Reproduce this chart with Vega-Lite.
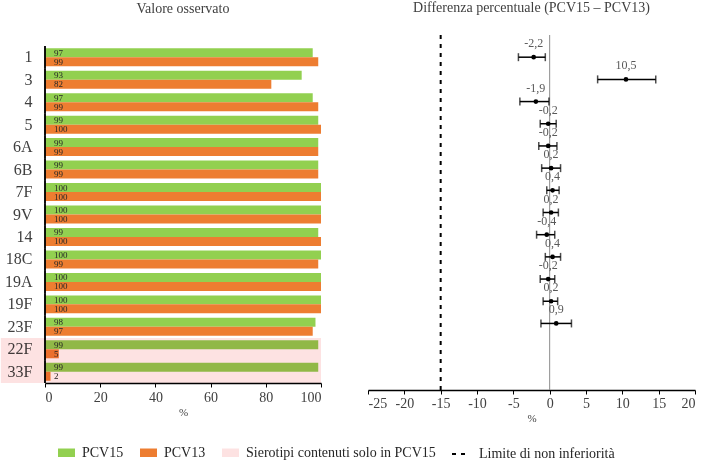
{
  "$schema": "https://vega.github.io/schema/vega-lite/v6.json",
  "background": "white",
  "padding": {"left": 0, "top": 1, "right": 0, "bottom": 0},
  "config": {
    "font": "Liberation Serif",
    "view": {"stroke": null},
    "concat": {"spacing": 45},
    "legend": {"labelFont": "Liberation Serif", "labelLimit": 400}
  },
  "datasets": {
    "obs": [
      {"sero": "1", "series": "PCV15", "val": 97}, {"sero": "1", "series": "PCV13", "val": 99},
      {"sero": "3", "series": "PCV15", "val": 93}, {"sero": "3", "series": "PCV13", "val": 82},
      {"sero": "4", "series": "PCV15", "val": 97}, {"sero": "4", "series": "PCV13", "val": 99},
      {"sero": "5", "series": "PCV15", "val": 99}, {"sero": "5", "series": "PCV13", "val": 100},
      {"sero": "6A", "series": "PCV15", "val": 99}, {"sero": "6A", "series": "PCV13", "val": 99},
      {"sero": "6B", "series": "PCV15", "val": 99}, {"sero": "6B", "series": "PCV13", "val": 99},
      {"sero": "7F", "series": "PCV15", "val": 100}, {"sero": "7F", "series": "PCV13", "val": 100},
      {"sero": "9V", "series": "PCV15", "val": 100}, {"sero": "9V", "series": "PCV13", "val": 100},
      {"sero": "14", "series": "PCV15", "val": 99}, {"sero": "14", "series": "PCV13", "val": 100},
      {"sero": "18C", "series": "PCV15", "val": 100}, {"sero": "18C", "series": "PCV13", "val": 99},
      {"sero": "19A", "series": "PCV15", "val": 100}, {"sero": "19A", "series": "PCV13", "val": 100},
      {"sero": "19F", "series": "PCV15", "val": 100}, {"sero": "19F", "series": "PCV13", "val": 100},
      {"sero": "23F", "series": "PCV15", "val": 98}, {"sero": "23F", "series": "PCV13", "val": 97},
      {"sero": "22F", "series": "PCV15", "val": 99}, {"sero": "22F", "series": "PCV13", "val": 5},
      {"sero": "33F", "series": "PCV15", "val": 99}, {"sero": "33F", "series": "PCV13", "val": 2}
    ],
    "only15": [
      {"sero": "22F", "series": "Sierotipi contenuti solo in PCV15"},
      {"sero": "33F", "series": "Sierotipi contenuti solo in PCV15"}
    ],
    "diff": [
      {"sero": "1", "d": -2.2, "lo": -4.3, "hi": -0.6, "lab": "-2,2"},
      {"sero": "3", "d": 10.5, "lo": 6.6, "hi": 14.6, "lab": "10,5"},
      {"sero": "4", "d": -1.9, "lo": -4.1, "hi": -0.1, "lab": "-1,9"},
      {"sero": "5", "d": -0.2, "lo": -1.3, "hi": 0.9, "lab": "-0,2"},
      {"sero": "6A", "d": -0.2, "lo": -1.5, "hi": 1.0, "lab": "-0,2"},
      {"sero": "6B", "d": 0.2, "lo": -1.1, "hi": 1.5, "lab": "0,2"},
      {"sero": "7F", "d": 0.4, "lo": -0.4, "hi": 1.3, "lab": "0,4"},
      {"sero": "9V", "d": 0.2, "lo": -0.9, "hi": 1.2, "lab": "0,2"},
      {"sero": "14", "d": -0.4, "lo": -1.8, "hi": 0.7, "lab": "-0,4"},
      {"sero": "18C", "d": 0.4, "lo": -0.6, "hi": 1.5, "lab": "0,4"},
      {"sero": "19A", "d": -0.2, "lo": -1.3, "hi": 0.7, "lab": "-0,2"},
      {"sero": "19F", "d": 0.2, "lo": -0.9, "hi": 1.1, "lab": "0,2"},
      {"sero": "23F", "d": 0.9, "lo": -1.2, "hi": 3.0, "lab": "0,9"}
    ]
  },
  "hconcat": [
    {
      "width": 276,
      "height": 348,
      "title": {"text": "Valore osservato", "fontSize": 14, "fontWeight": "normal", "color": "#404040", "offset": 19, "frame": "group"},
      "layer": [
        {
          "data": {"name": "obs"},
          "mark": {"type": "bar"},
          "encoding": {
            "y": {"field": "sero", "type": "nominal", "sort": ["1","3","4","5","6A","6B","7F","9V","14","18C","19A","19F","23F","22F","33F"],
              "scale": {"domain": ["1","3","4","5","6A","6B","7F","9V","14","18C","19A","19F","23F","22F","33F"], "paddingInner": 0, "paddingOuter": 0.245, "align": 1},
              "axis": {"title": null, "ticks": false, "domain": false, "labelFontSize": 16, "labelColor": "#404040", "labelPadding": 13}},
            "yOffset": {"field": "series", "type": "nominal", "scale": {"domain": ["PCV15", "PCV13"], "paddingInner": 0, "paddingOuter": 0.25}},
            "x": {"field": "val", "type": "quantitative", "scale": {"domain": [0, 100], "nice": false},
              "axis": {"values": [0,20,40,60,80,100], "grid": false, "title": "%", "titleFontSize": 11, "titleFontWeight": "normal", "titleColor": "#404040", "titlePadding": 2,
                "domainColor": "black", "domainWidth": 1.5, "tickColor": "black", "tickSize": 4, "labelFontSize": 14, "labelColor": "#404040", "labelPadding": 3}},
            "color": {"field": "series", "type": "nominal",
              "scale": {"domain": ["PCV15", "PCV13", "Sierotipi contenuti solo in PCV15"], "range": ["#92D050", "#ED7D31", "#FDE2E2"]},
              "legend": {"title": null, "orient": "none", "legendX": 13, "legendY": 409, "direction": "horizontal", "columns": 3,
                "symbolType": "M-1,-0.5H1V0.5H-1Z", "symbolSize": 289, "symbolStrokeWidth": 0, "symbolOpacity": 1,
                "labelFont": "Liberation Serif", "labelLimit": 400,
                "labelFontSize": 14, "labelColor": "#262626", "labelOffset": 7, "columnPadding": 16,
                "encode": {"labels": {"update": {"font": {"value": "Liberation Serif"}}}}}}
          }
        },
        {
          "data": {"name": "obs"},
          "mark": {"type": "rect", "color": "black"},
          "encoding": {
            "y": {"field": "sero", "type": "nominal"},
            "x": {"datum": -0.27, "type": "quantitative"},
            "x2": {"datum": 0.27}
          }
        },
        {
          "data": {"name": "obs"},
          "mark": {"type": "text", "align": "left", "baseline": "middle", "dx": 9, "fontSize": 9, "color": "#262626"},
          "encoding": {
            "y": {"field": "sero", "type": "nominal"},
            "yOffset": {"field": "series", "type": "nominal"},
            "x": {"datum": 0, "type": "quantitative"},
            "text": {"field": "val", "type": "quantitative"}
          }
        },
        {
          "data": {"name": "only15"},
          "mark": {"type": "rect", "blend": "multiply", "clip": false},
          "encoding": {
            "y": {"field": "sero", "type": "nominal"},
            "x": {"datum": -16, "type": "quantitative"},
            "x2": {"datum": 100},
            "color": {"field": "series", "type": "nominal"}
          }
        }
      ]
    },
    {
      "width": 327,
      "height": 355,
      "title": {"text": "Differenza percentuale (PCV15 – PCV13)", "fontSize": 14, "fontWeight": "normal", "color": "#404040", "offset": 19, "frame": "group"},
      "encoding": {
        "x": {"type": "quantitative", "scale": {"domain": [-25, 20], "nice": false},
          "axis": {"values": [-25,-20,-15,-10,-5,0,5,10,15,20], "grid": false, "title": "%", "titleFontSize": 11, "titleFontWeight": "normal", "titleColor": "#404040", "titlePadding": 2,
            "labelExpr": "replace(datum.label, '−', '-')",
            "domainColor": "black", "domainWidth": 1.5, "tickColor": "black", "tickSize": 4, "labelFontSize": 14, "labelColor": "#404040", "labelPadding": 2}}
      },
      "layer": [
        {
          "data": {"values": [{}]},
          "mark": {"type": "rule", "color": "#8c8c8c", "strokeWidth": 1},
          "encoding": {"x": {"datum": 0, "type": "quantitative"}}
        },
        {
          "data": {"values": [{}]},
          "mark": {"type": "rule", "color": "black", "strokeWidth": 2},
          "encoding": {
            "x": {"datum": -15, "type": "quantitative"},
            "strokeDash": {"datum": "Limite di non inferiorità", "scale": {"range": [[4, 5]]},
              "legend": {"title": null, "orient": "none", "legendX": 406, "legendY": 409, "symbolType": "stroke", "symbolSize": 324,
                "labelFont": "Liberation Serif", "labelLimit": 400,
                "symbolStrokeColor": "black", "symbolStrokeWidth": 2, "labelFontSize": 14, "labelColor": "#262626", "labelOffset": 8,
                "encode": {"labels": {"update": {"font": {"value": "Liberation Serif"}}}}}}
          }
        },
        {
          "data": {"name": "diff"},
          "mark": {"type": "rule", "color": "black", "strokeWidth": 1.5},
          "encoding": {
            "y": {"field": "sero", "type": "nominal", "scale": {"type": "point", "domain": ["1","3","4","5","6A","6B","7F","9V","14","18C","19A","19F","23F","22F","33F"], "padding": 1}, "axis": null},
            "x": {"field": "lo", "type": "quantitative"},
            "x2": {"field": "hi"}
          }
        },
        {
          "data": {"name": "diff"},
          "mark": {"type": "tick", "color": "black", "thickness": 1.5, "size": 8},
          "encoding": {
            "y": {"field": "sero", "type": "nominal"},
            "x": {"field": "lo", "type": "quantitative"}
          }
        },
        {
          "data": {"name": "diff"},
          "mark": {"type": "tick", "color": "black", "thickness": 1.5, "size": 8},
          "encoding": {
            "y": {"field": "sero", "type": "nominal"},
            "x": {"field": "hi", "type": "quantitative"}
          }
        },
        {
          "data": {"name": "diff"},
          "mark": {"type": "circle", "color": "black", "opacity": 1, "size": 22},
          "encoding": {
            "y": {"field": "sero", "type": "nominal"},
            "x": {"field": "d", "type": "quantitative"}
          }
        },
        {
          "data": {"name": "diff"},
          "mark": {"type": "text", "dy": -14, "fontSize": 12, "color": "#595959", "baseline": "middle"},
          "encoding": {
            "y": {"field": "sero", "type": "nominal"},
            "x": {"field": "d", "type": "quantitative"},
            "text": {"field": "lab", "type": "nominal"}
          }
        }
      ]
    }
  ]
}
